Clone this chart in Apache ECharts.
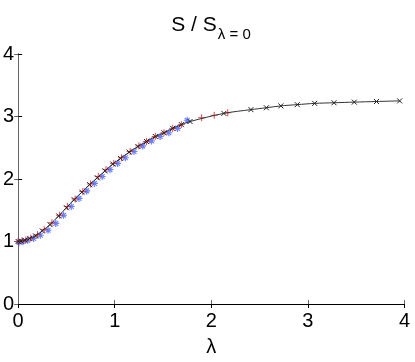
<!DOCTYPE html>
<html>
<head>
<meta charset="utf-8">
<script src="https://cdn.jsdelivr.net/npm/echarts@6/dist/echarts.min.js"></script>
<style>
  html, body { margin: 0; padding: 0; background: #fff; }
  #main { width: 415px; height: 362px; }
</style>
</head>
<body>
<div id="main"></div>
<script>
// black curve (x markers)
var lamBlack = [0, 0.03, 0.07, 0.12, 0.18, 0.25, 0.33, 0.42, 0.5, 0.58, 0.66, 0.74, 0.82, 0.9, 0.98, 1.06, 1.15, 1.24, 1.33, 1.42, 1.51, 1.6, 1.69, 1.78, 2.13, 2.41, 2.57, 2.72, 2.89, 3.07, 3.27, 3.48, 3.71, 3.95];
var sBlack = [1.00, 1.005, 1.02, 1.05, 1.09, 1.17, 1.27, 1.41, 1.54, 1.67, 1.79, 1.91, 2.02, 2.13, 2.24, 2.33, 2.43, 2.52, 2.60, 2.68, 2.74, 2.81, 2.87, 2.92, 3.05, 3.11, 3.14, 3.17, 3.19, 3.21, 3.22, 3.23, 3.24, 3.25];
// red (+ markers)
var lamRed = [0, 0.04, 0.08, 0.13, 0.2, 0.27, 0.35, 0.43, 0.51, 0.59, 0.67, 0.75, 0.83, 0.91, 0.99, 1.07, 1.16, 1.25, 1.33, 1.42, 1.51, 1.6, 1.69, 1.9, 2.03, 2.17];
var sRed = [1.00, 1.01, 1.025, 1.055, 1.11, 1.19, 1.30, 1.42, 1.56, 1.68, 1.80, 1.92, 2.04, 2.15, 2.25, 2.34, 2.44, 2.53, 2.60, 2.68, 2.74, 2.81, 2.87, 2.98, 3.02, 3.06];
// blue (* markers)
var lamBlue = [0.01, 0.05, 0.1, 0.16, 0.23, 0.31, 0.39, 0.47, 0.55, 0.63, 0.71, 0.79, 0.87, 0.95, 1.03, 1.11, 1.2, 1.29, 1.38, 1.47, 1.56, 1.65, 1.75];
var sBlue = [0.99, 1.00, 1.02, 1.05, 1.10, 1.18, 1.29, 1.42, 1.56, 1.69, 1.81, 1.93, 2.04, 2.15, 2.25, 2.34, 2.44, 2.53, 2.61, 2.68, 2.74, 2.81, 2.94];

var xTicks = [0, 1, 2, 3, 4];
var yTicks = [0, 1, 2, 3, 4];

function pairs(xs, ys) {
    var out = [];
    for (var i = 0; i < xs.length; i++) out.push([xs[i], ys[i]]);
    return out;
}

var symX = 'path://M0,0L10,10M10,0L0,10';
var symPlus = 'path://M5,0L5,10M0,5L10,5';
var symStar = 'path://M5,0L5,10M0,5L10,5M1.5,1.5L8.5,8.5M8.5,1.5L1.5,8.5';

var myChart = echarts.init(document.getElementById('main'));

var axisFont = { fontFamily: 'Liberation Sans', fontSize: 20, color: '#000' };

var option = {
    animation: false,
    title: {
        text: '{s|S / S}{sub|λ = 0}',
        left: 206,
        textAlign: 'center',
        top: 9,
        textStyle: {
            fontWeight: 'normal',
            rich: {
                s: { fontFamily: 'Liberation Sans', fontSize: 21, fontWeight: 'normal', color: '#000', lineHeight: 22 },
                sub: { fontFamily: 'Liberation Sans', fontSize: 15, fontWeight: 'normal', color: '#000', lineHeight: 22, padding: [19, 0, 0, 1] }
            }
        }
    },
    grid: { left: 15.7, right: 10.5, top: 54, bottom: 52 },
    xAxis: [{
        type: 'value', min: 0, max: 4, interval: 1,
        name: 'λ', nameLocation: 'middle', nameGap: 33,
        nameTextStyle: { fontFamily: 'Liberation Sans', fontSize: 20, color: '#000' },
        axisLine: { show: true, lineStyle: { color: '#666', width: 1 } },
        axisTick: { inside: true, length: 4, lineStyle: { color: '#666' } },
        axisLabel: Object.assign({ margin: 7, formatter: function (v) { return xTicks.indexOf(v) >= 0 ? String(v) : ''; } }, axisFont),
        splitLine: { show: false }
    }, {
        type: 'value', min: 0, max: 4, interval: 1, position: 'top',
        axisLine: { show: true, lineStyle: { color: '#000', width: 1 } },
        axisTick: { inside: true, length: 4, lineStyle: { color: '#000' } },
        axisLabel: { show: false },
        splitLine: { show: false }
    }],
    yAxis: [{
        type: 'value', min: 0, max: 4, interval: 1,
        axisLine: { show: true, lineStyle: { color: '#000', width: 1 } },
        axisTick: { inside: true, length: 4, lineStyle: { color: '#000' } },
        axisLabel: Object.assign({ margin: 4, formatter: function (v) { return yTicks.indexOf(v) >= 0 ? String(v) : ''; } }, axisFont),
        splitLine: { show: false }
    }, {
        type: 'value', min: 0, max: 4, interval: 1, position: 'right',
        axisLine: { show: true, lineStyle: { color: '#666', width: 1 } },
        axisTick: { inside: true, length: 4, lineStyle: { color: '#666' } },
        axisLabel: { show: false },
        splitLine: { show: false }
    }],
    series: [{
        name: 'blue',
        type: 'line',
        data: pairs(lamBlue, sBlue),
        lineStyle: { width: 0, opacity: 0 },
        symbol: symStar, symbolSize: 7, showSymbol: true,
        itemStyle: { color: 'rgba(0,0,0,0)', borderColor: 'rgba(60,90,255,0.75)', borderWidth: 1.2 },
        z: 2
    }, {
        name: 'red',
        type: 'line',
        data: pairs(lamRed, sRed),
        lineStyle: { width: 0, opacity: 0 },
        symbol: symPlus, symbolSize: 7, showSymbol: true,
        itemStyle: { color: 'rgba(0,0,0,0)', borderColor: 'rgba(225,40,40,0.85)', borderWidth: 1 },
        z: 3
    }, {
        name: 'black',
        type: 'line',
        data: pairs(lamBlack, sBlack),
        smooth: 0.3,
        lineStyle: { width: 1, color: '#333' },
        symbol: symX, symbolSize: 5, showSymbol: true,
        itemStyle: { color: 'rgba(0,0,0,0)', borderColor: '#222', borderWidth: 1 },
        z: 4
    }]
};

myChart.setOption(option);
</script>
</body>
</html>
